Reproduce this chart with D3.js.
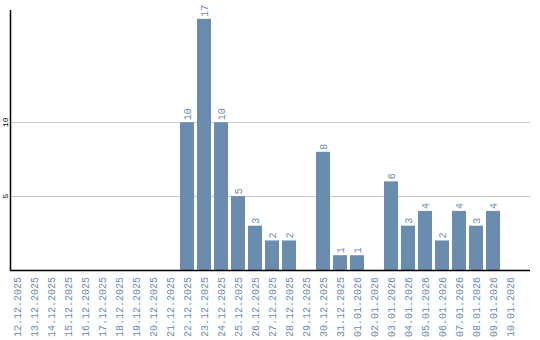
<!DOCTYPE html>
<html><head><meta charset="utf-8">
<script src="https://cdn.jsdelivr.net/npm/d3@7"></script>
<style>body{margin:0;background:#fff}</style>
</head><body>
<svg id="c" width="540" height="340"></svg>
<script>
const categories = ["12.12.2025","13.12.2025","14.12.2025","15.12.2025","16.12.2025","17.12.2025","18.12.2025","19.12.2025","20.12.2025","21.12.2025","22.12.2025","23.12.2025","24.12.2025","25.12.2025","26.12.2025","27.12.2025","28.12.2025","29.12.2025","30.12.2025","31.12.2025","01.01.2026","02.01.2026","03.01.2026","04.01.2026","05.01.2026","06.01.2026","07.01.2026","08.01.2026","09.01.2026","10.01.2026"];
const values = [0,0,0,0,0,0,0,0,0,0,10,17,10,5,3,2,2,0,8,1,1,0,6,3,4,2,4,3,4,0];
const yTicks = [5,10];

const svg = d3.select("#c");
const color = "#6a8caf";
const font = "Liberation Mono, Courier New, monospace";
const x = d3.scaleBand().domain(categories).range([8.5, 518.5]).paddingInner(3/17).paddingOuter(1.5/17);
const y = d3.scaleLinear().domain([0, 17.6]).range([270, 10]);

// gridlines
svg.append("g").selectAll("line").data(yTicks).join("line")
  .attr("x1", 11).attr("x2", 530)
  .attr("y1", d => Math.floor(y(d)) + 0.5).attr("y2", d => Math.floor(y(d)) + 0.5)
  .attr("stroke", "#c8c8c8").attr("stroke-width", 1);

// y tick labels
svg.append("g").selectAll("text").data(yTicks).join("text")
  .attr("transform", d => `translate(8,${y(d)}) rotate(-90)`)
  .attr("text-anchor", "middle")
  .attr("font-family", font)
  .attr("font-size", 8)
  .attr("fill", "#000")
  .text(d => d);

// bars
svg.append("g").selectAll("rect").data(values.map((v,i)=>({c:categories[i],v}))).join("rect")
  .attr("x", d => x(d.c)).attr("width", x.bandwidth())
  .attr("y", d => y(d.v)).attr("height", d => y(0) - y(d.v))
  .attr("fill", color);

// value labels
svg.append("g").selectAll("text").data(values.map((v,i)=>({c:categories[i],v})).filter(d=>d.v>0)).join("text")
  .attr("transform", d => `translate(${x(d.c) + x.bandwidth()/2 + 3.5},${y(d.v) - 2}) rotate(-90)`)
  .attr("text-anchor", "start")
  .attr("font-family", font)
  .attr("font-size", 10)
  .attr("fill", color)
  .text(d => d.v);

// x labels
svg.append("g").selectAll("text").data(categories).join("text")
  .attr("transform", d => `translate(${x(d) + x.bandwidth()/2 + 3.5},277) rotate(-90)`)
  .attr("text-anchor", "end")
  .attr("font-family", font)
  .attr("font-size", 10)
  .attr("fill", color)
  .text(d => d);

// axes lines
svg.append("line").attr("x1", 10.5).attr("x2", 10.5).attr("y1", 10).attr("y2", 270.5)
  .attr("stroke", "#000").attr("stroke-width", 1.5);
svg.append("line").attr("x1", 10).attr("x2", 530).attr("y1", 270.5).attr("y2", 270.5)
  .attr("stroke", "#000").attr("stroke-width", 1.5);
</script>
</body></html>
